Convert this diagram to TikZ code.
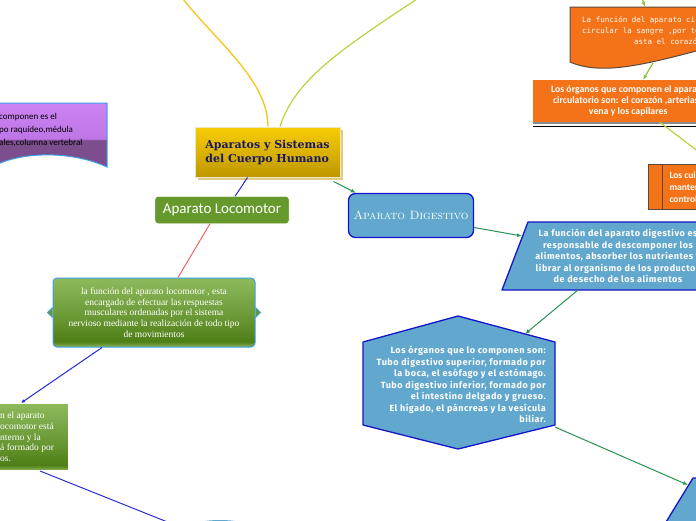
\documentclass[tikz,border=0pt]{standalone}
\usepackage{fontspec}
\newfontfamily\carlito{Carlito}
\newfontfamily\fira[LetterSpace=6]{Fira Sans}
\newfontfamily\dejaserif{DejaVu Serif}
\newfontfamily\dejamono{DejaVu Sans Mono}
\newfontfamily\libserif{Liberation Serif}
\usetikzlibrary{arrows.meta,positioning,calc,shapes.geometric,shadows}
\definecolor{PurpleTop}{RGB}{204,132,244}
\definecolor{PurpleLight}{RGB}{190,118,230}
\definecolor{PurpleDark}{RGB}{124,78,142}
\definecolor{FrameBlue}{RGB}{60,160,232}
\definecolor{GoldTop}{RGB}{248,204,6}
\definecolor{GoldLow}{RGB}{190,152,0}
\definecolor{GoldShadow}{RGB}{222,204,130}
\definecolor{Navy}{RGB}{24,24,100}
\definecolor{LocoGreen}{RGB}{101,153,43}
\definecolor{GreenTop}{RGB}{142,186,92}
\definecolor{GreenMid}{RGB}{104,150,50}
\definecolor{GreenDeep}{RGB}{78,126,22}
\definecolor{GreenLow}{RGB}{140,180,90}
\definecolor{SkyFill}{RGB}{98,168,206}
\definecolor{RoyalBlue}{RGB}{20,20,200}
\definecolor{LineBlue}{RGB}{40,40,210}
\definecolor{Coral}{RGB}{240,100,100}
\definecolor{Orange}{RGB}{244,115,24}
\definecolor{Umber}{RGB}{90,74,60}
\definecolor{ArrowGreen}{RGB}{40,146,80}
\definecolor{Sun}{RGB}{246,198,20}
\definecolor{Lime}{RGB}{190,210,60}
\definecolor{LimeArrow}{RGB}{140,196,60}
\pgfdeclareverticalshading{greenglass}{100bp}{color(0bp)=(GreenLow); color(25bp)=(GreenLow); color(29bp)=(GreenDeep); color(45bp)=(GreenMid); color(75bp)=(GreenTop); color(100bp)=(GreenTop)}
\pgfdeclareverticalshading{purpleglass}{100bp}{color(0bp)=(PurpleDark); color(25bp)=(PurpleDark); color(46bp)=(PurpleDark); color(47bp)=(PurpleLight); color(75bp)=(PurpleTop); color(100bp)=(PurpleTop)}
\tikzset{
  >=Latex,
  topic/.style={draw=GoldShadow!50!white,line width=1pt,top color=GoldTop,bottom color=GoldLow,align=left,text=Navy,font=\dejaserif\bfseries\fontsize{11}{14}\selectfont,minimum width=145pt,minimum height=50pt,drop shadow={shadow xshift=3pt,shadow yshift=-3pt,fill=GoldShadow,opacity=1}},
  branch/.style={draw=white,fill=LocoGreen,rounded corners=3pt,text=white,font=\carlito\fontsize{15}{18}\selectfont,minimum width=134pt,minimum height=27pt},
  greenbox/.style={draw=FrameBlue,line width=1pt,shade,shading=greenglass,rounded corners=4pt},
  greentext/.style={text=white,align=center,font=\libserif\fontsize{9.5}{10.7}\selectfont,inner sep=0pt},
  purpledoc/.style={draw=FrameBlue,line width=1pt,shade,shading=purpleglass},
  purpletext/.style={text=black,align=left,font=\carlito\fontsize{9}{12.8}\selectfont,inner sep=0pt},
  orangedoc/.style={draw=Umber,line width=1pt,fill=Orange},
  monotext/.style={text=white,align=center,font=\dejamono\fontsize{7.5}{11}\selectfont,inner sep=0pt},
  orangebox/.style={fill=Orange,text=white,align=center,font=\carlito\bfseries\fontsize{9.8}{11}\selectfont,minimum width=190pt,minimum height=42pt,drop shadow={shadow xshift=0pt,shadow yshift=-2pt,fill=black!45,opacity=1}},
  caresbox/.style={draw=Umber,line width=1pt,fill=Orange,text=white,align=left,font=\carlito\bfseries\fontsize{9.5}{12}\selectfont,minimum height=45pt,inner xsep=21pt},
  digestbox/.style={draw=RoyalBlue,line width=1.3pt,fill=SkyFill,rounded corners=7pt,text=white,font=\scshape\fontsize{12}{14}\selectfont,minimum width=125pt,minimum height=44pt},
  skyshape/.style={draw=RoyalBlue,line width=1.3pt,fill=SkyFill,line join=round},
  skytext/.style={text=white,align=center,font=\fira\bfseries\fontsize{9}{11.5}\selectfont,inner sep=0pt},
  sunline/.style={draw=Sun,line width=1.3pt},
  limeline/.style={draw=Lime,line width=1.2pt},
  limearrow/.style={-{Latex[length=5pt,width=4pt]},draw=LimeArrow,line width=1.2pt},
  greenarrow/.style={-{Latex[length=5pt,width=4pt]},draw=ArrowGreen,line width=1pt},
  blueline/.style={draw=LineBlue,line width=1pt},
  bluearrow/.style={blueline,-{Latex[length=4pt,width=3.5pt]}},
  coralline/.style={draw=Coral,line width=1pt}
}
\begin{document}
\begin{tikzpicture}[x=1pt,y=-1pt]
  \useasboundingbox (0,0) rectangle (696,520);
  \clip (0,0) rectangle (696,520);
  % nervous system, cut at the left edge
  \path[purpledoc] (-6,103) -- (107,103) -- (107,167) .. controls (70,150) and (20,152) .. (-6,166) -- cycle;
  \node[purpletext,anchor=west] (nerv) at (-1,130) {componen es el\\po raquídeo,médula\\ales,columna vertebral};
  % centre
  \node[topic] (root) at (267.5,152) {Aparatos y Sistemas\\del Cuerpo Humano};
  \coordinate (sunEnd) at (183,-1);
  \coordinate (limeEnd) at (417,-1);
  \draw[sunline] ([xshift=0.5pt]root.north) .. controls (268,80) and (215,40) .. (sunEnd);
  \draw[limeline] ([xshift=12.5pt]root.north) .. controls (295,80) and (340,50) .. (limeEnd);
  % circulatory system
  \path[orangedoc] (570,7) -- (700,7) -- (700,50) .. controls (640,66) and (600,75) .. (570,62) -- cycle;
  \node[monotext] (circfun) at (668,31) {La función del aparato circulatorio es\\circular la sangre ,por todo el cuerpo\\asta el corazón};
  \coordinate (circIn) at (642,-2);
  \coordinate (circTop) at (645,7);
  \draw[limearrow] (circIn) -- (circTop);
  \node[orangebox,anchor=north west] (circorg) at (533,80) {Los órganos que componen el aparato\\circulatorio son: el corazón ,arterias ,\\vena y los capilares};
  \draw[black,line width=1pt] ([yshift=-4pt]circorg.south west) -- ([yshift=-4pt]circorg.south east);
  \coordinate (cfOut) at (653,63);
  \draw[limearrow] (cfOut) -- ([xshift=110pt]circorg.north west);
  \node[caresbox,anchor=north west] (cares) at (648,164) {Los cuidados\\mantener\\control};
  \draw[Umber,line width=1pt] ([xshift=14pt]cares.north west) -- ([xshift=14pt]cares.south west);
  \coordinate (careIn) at (716,165);
  \draw[limeline] ([xshift=127pt]circorg.south west) -- (careIn);
  % digestive system
  \node[digestbox] (digest) at (411,215.5) {Aparato Digestivo};
  \draw[greenarrow] ([xshift=-7pt,yshift=-4pt]root.south east) -- ([xshift=8pt]digest.north west);
  \path[skyshape] (528,222) -- (730,222) -- (704,290) -- (502,290) -- cycle;
  \node[skytext] (digfun) at (618,256) {La función del aparato digestivo es\\responsable de descomponer los\\alimentos, absorber los nutrientes y\\librar al organismo de los productos\\de desecho de los alimentos};
  \coordinate (dfIn) at (522,236);
  \draw[greenarrow] ([yshift=-12pt]digest.east) -- (dfIn);
  \path[skyshape] (458,316) -- (555,342) -- (555,425) -- (458,449) -- (363,425) -- (363,342) -- cycle;
  \node[skytext,align=right,anchor=east] (organs) at (546,384.5) {Los órganos que lo componen son:\\Tubo digestivo superior, formado por\\la boca, el esófago y el estómago.\\Tubo digestivo inferior, formado por\\el intestino delgado y grueso.\\El hígado, el páncreas y la vesícula\\biliar.};
  \coordinate (dfOut) at (578,290);
  \coordinate (hxIn) at (525,334);
  \draw[greenarrow] (dfOut) -- (hxIn);
  \path[skyshape] (693,478) -- (780,478) -- (742,540) -- (655,540) -- cycle;
  \coordinate (hxOut) at (555,427);
  \coordinate (lowIn) at (688,485);
  \draw[greenarrow] (hxOut) -- (lowIn);
  % locomotor system
  \node[branch] (loco) at (222,210) {Aparato Locomotor};
  \draw[blueline] ([xshift=-20pt]root.south) -- ([xshift=13pt]loco.north);
  \node[greenbox,minimum width=202pt,minimum height=69pt] (locodesc) at (154,312.5) {};
  \node[greentext] (locotxt) at (locodesc) {la función del aparato locomotor , esta\\encargado de efectuar las respuestas\\musculares ordenadas por el sistema\\nervioso mediante la realización de todo tipo\\de movimientos};
  \draw[draw=FrameBlue,fill=GreenMid,line width=1pt] ([yshift=5pt]locodesc.west) -- ++(-5,5) -- ++(5,5);
  \draw[draw=FrameBlue,fill=GreenMid,line width=1pt] ([yshift=5pt]locodesc.east) -- ++(5,5) -- ++(-5,5);
  \draw[coralline] ([xshift=-12pt]loco.south) -- ([xshift=24pt]locodesc.north);
  \node[greenbox,sharp corners,draw=white,anchor=north east,minimum width=130pt,minimum height=67pt] (lowgreen) at (69,403) {};
  \node[greentext,anchor=west,align=left] (lowtxt) at (0,437) {n el aparato\\ocomotor está\\nterno y la\\á formado por\\os.};
  \draw[bluearrow] ([xshift=-52pt]locodesc.south) -- ([xshift=-48pt]lowgreen.north east);
  \node[ellipse,fill=SkyFill,minimum width=120pt,minimum height=60pt] (skel) at (220,550) {};
  \draw[blueline] ([xshift=-29pt]lowgreen.south east) -- (skel.150);
\end{tikzpicture}
\end{document}
